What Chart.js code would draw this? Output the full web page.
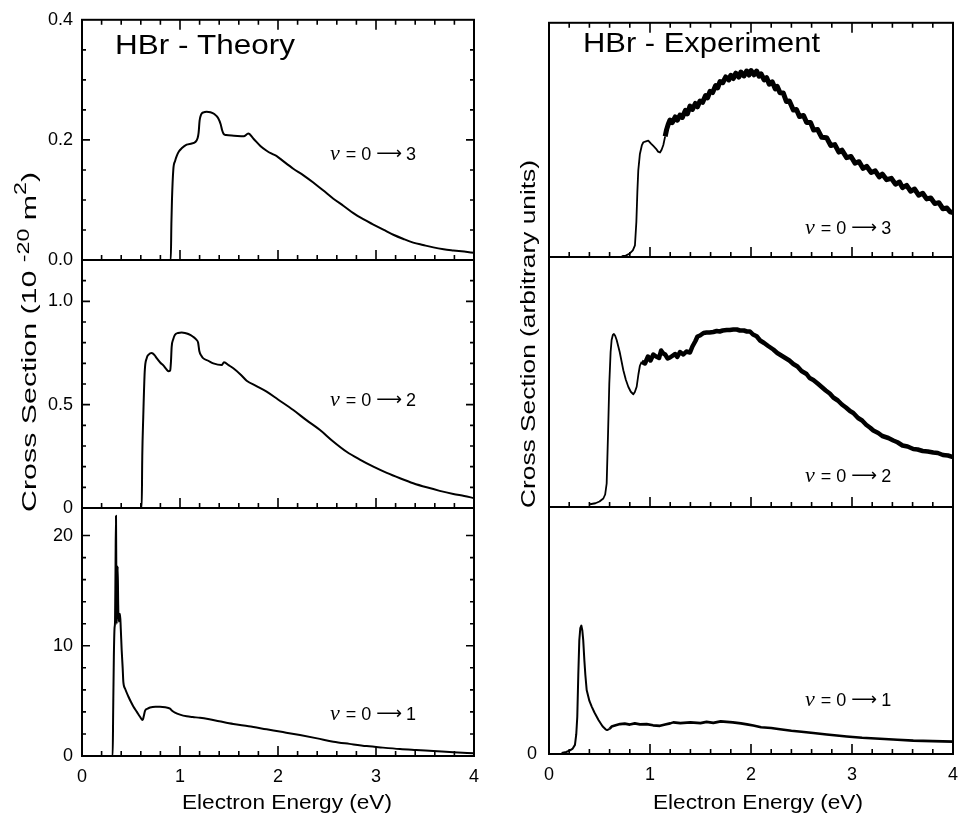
<!DOCTYPE html>
<html>
<head>
<meta charset="utf-8">
<script src="https://cdn.jsdelivr.net/npm/chart.js@4.4.1/dist/chart.umd.min.js"></script>
<style>
html, body { margin: 0; padding: 0; background: #fff; overflow: hidden; }
#fig { position: relative; width: 961px; height: 815px; overflow: hidden; }
#fig canvas { position: absolute; left: 0; top: 0; }
</style>
</head>
<body>
<div id="fig"></div>
<script>
// theory, v = 0 -> 3 (10^-20 m^2)
const thTopX = [0, 0.9, 0.906, 0.912, 0.918, 0.932, 0.95, 0.966, 0.99, 1.017, 1.068, 1.12, 1.153, 1.18, 1.19, 1.2, 1.215, 1.24, 1.272, 1.31, 1.35, 1.39, 1.415, 1.43, 1.445, 1.47, 1.55, 1.65, 1.697, 1.75, 1.82, 1.884, 1.936, 1.987, 2.05, 2.156, 2.26, 2.36, 2.46, 2.565, 2.67, 2.769, 2.87, 2.973, 3.08, 3.177, 3.28, 3.38, 3.48, 3.585, 3.69, 3.789, 3.9, 4.0];
const thTopY = [0, 0, 0, 0.06, 0.1, 0.151, 0.165, 0.173, 0.181, 0.186, 0.192, 0.194, 0.196, 0.203, 0.212, 0.232, 0.242, 0.246, 0.247, 0.246, 0.243, 0.236, 0.226, 0.216, 0.21, 0.208, 0.207, 0.206, 0.2105, 0.202, 0.19, 0.182, 0.177, 0.173, 0.165, 0.152, 0.141, 0.129, 0.116, 0.102, 0.09, 0.078, 0.068, 0.059, 0.05, 0.042, 0.035, 0.029, 0.025, 0.021, 0.018, 0.016, 0.014, 0.012];

// theory, v = 0 -> 2
const thMidX = [0, 0.605, 0.609, 0.615, 0.625, 0.64, 0.66, 0.68, 0.711, 0.74, 0.762, 0.8, 0.83, 0.86, 0.881, 0.9, 0.908, 0.915, 0.93, 0.949, 0.98, 1.017, 1.05, 1.085, 1.13, 1.17, 1.185, 1.197, 1.22, 1.238, 1.29, 1.34, 1.425, 1.449, 1.5, 1.544, 1.62, 1.68, 1.78, 1.884, 2.0, 2.156, 2.29, 2.429, 2.56, 2.7, 2.84, 2.973, 3.11, 3.245, 3.38, 3.517, 3.65, 3.789, 3.9, 4.0];
const thMidY = [0, 0, 0, 0.25, 0.44, 0.66, 0.725, 0.742, 0.75, 0.74, 0.725, 0.703, 0.69, 0.672, 0.662, 0.665, 0.71, 0.78, 0.815, 0.838, 0.847, 0.849, 0.847, 0.842, 0.83, 0.813, 0.8, 0.76, 0.735, 0.724, 0.712, 0.70, 0.692, 0.705, 0.69, 0.676, 0.645, 0.616, 0.59, 0.563, 0.525, 0.474, 0.425, 0.377, 0.323, 0.272, 0.233, 0.20, 0.17, 0.144, 0.12, 0.10, 0.083, 0.068, 0.058, 0.048];

// theory, v = 0 -> 1
const thBotX = [0, 0.305, 0.313, 0.318, 0.325, 0.332, 0.337, 0.342, 0.347, 0.351, 0.354, 0.359, 0.364, 0.369, 0.374, 0.38, 0.388, 0.396, 0.405, 0.415, 0.422, 0.44, 0.473, 0.5, 0.524, 0.56, 0.592, 0.619, 0.63, 0.643, 0.67, 0.694, 0.75, 0.796, 0.85, 0.898, 0.92, 0.949, 1.0, 1.068, 1.13, 1.204, 1.3, 1.4, 1.544, 1.7, 1.884, 2.05, 2.224, 2.4, 2.565, 2.73, 2.905, 3.07, 3.245, 3.41, 3.585, 3.79, 4.0];
const thBotY = [0, 0, 0, 4, 9, 11.6, 12.2, 17, 21.8, 15, 12, 13.5, 17.2, 14, 12.2, 12.6, 12.9, 11.5, 9.6, 8, 6.7, 6.1, 5.4, 4.9, 4.5, 4.0, 3.56, 3.26, 3.6, 4.1, 4.3, 4.4, 4.47, 4.47, 4.42, 4.3, 4.1, 3.93, 3.75, 3.6, 3.53, 3.47, 3.33, 3.15, 2.9, 2.7, 2.42, 2.17, 1.9, 1.6, 1.3, 1.1, 0.9, 0.76, 0.63, 0.54, 0.45, 0.34, 0.24];

// experiment, arbitrary units
const exTopX = [0.72, 0.76, 0.8, 0.83, 0.851, 0.865, 0.875, 0.884, 0.9, 0.92, 0.934, 0.96, 0.983, 1.01, 1.033, 1.06, 1.08, 1.099, 1.115, 1.132, 1.15, 1.165, 1.18, 1.198, 1.22, 1.25, 1.27, 1.297, 1.32, 1.35, 1.37, 1.396, 1.42, 1.45, 1.47, 1.495, 1.52, 1.55, 1.57, 1.594, 1.62, 1.65, 1.67, 1.693, 1.72, 1.75, 1.78, 1.8, 1.825, 1.85, 1.88, 1.9, 1.93, 1.957, 1.98, 2.0, 2.03, 2.056, 2.08, 2.1, 2.13, 2.155, 2.18, 2.21, 2.24, 2.26, 2.287, 2.32, 2.35, 2.38, 2.419, 2.45, 2.48, 2.52, 2.551, 2.59, 2.62, 2.66, 2.7, 2.749, 2.79, 2.83, 2.87, 2.9, 2.947, 2.99, 3.03, 3.07, 3.11, 3.145, 3.19, 3.23, 3.27, 3.3, 3.343, 3.39, 3.43, 3.47, 3.5, 3.541, 3.58, 3.62, 3.66, 3.7, 3.739, 3.78, 3.82, 3.86, 3.9, 3.94, 3.97, 4.0];
const exTopY = [0.004, 0.006, 0.015, 0.028, 0.05, 0.15, 0.28, 0.37, 0.44, 0.478, 0.49, 0.494, 0.497, 0.484, 0.474, 0.462, 0.45, 0.446, 0.458, 0.478, 0.515, 0.545, 0.566, 0.585, 0.574, 0.598, 0.584, 0.606, 0.596, 0.626, 0.611, 0.644, 0.63, 0.656, 0.641, 0.666, 0.66, 0.689, 0.68, 0.707, 0.702, 0.732, 0.722, 0.749, 0.744, 0.769, 0.756, 0.776, 0.762, 0.785, 0.768, 0.79, 0.773, 0.794, 0.777, 0.796, 0.778, 0.794, 0.772, 0.782, 0.756, 0.766, 0.738, 0.748, 0.718, 0.728, 0.701, 0.7, 0.664, 0.666, 0.628, 0.63, 0.6, 0.604, 0.574, 0.574, 0.542, 0.544, 0.511, 0.509, 0.476, 0.48, 0.448, 0.456, 0.424, 0.429, 0.401, 0.407, 0.378, 0.387, 0.361, 0.368, 0.342, 0.354, 0.33, 0.336, 0.311, 0.32, 0.296, 0.306, 0.281, 0.29, 0.264, 0.272, 0.248, 0.252, 0.228, 0.232, 0.206, 0.209, 0.193, 0.19];

const exMidX = [0.406, 0.46, 0.5, 0.538, 0.556, 0.571, 0.585, 0.597, 0.61, 0.62, 0.632, 0.643, 0.655, 0.67, 0.7, 0.736, 0.76, 0.785, 0.81, 0.835, 0.85, 0.868, 0.885, 0.9, 0.917, 0.95, 0.98, 1.005, 1.033, 1.06, 1.09, 1.11, 1.132, 1.15, 1.175, 1.198, 1.22, 1.25, 1.27, 1.297, 1.33, 1.36, 1.396, 1.42, 1.45, 1.47, 1.495, 1.53, 1.56, 1.59, 1.627, 1.66, 1.69, 1.72, 1.76, 1.79, 1.825, 1.86, 1.89, 1.93, 1.96, 1.99, 2.02, 2.056, 2.09, 2.13, 2.17, 2.221, 2.26, 2.3, 2.34, 2.38, 2.419, 2.46, 2.5, 2.55, 2.58, 2.617, 2.66, 2.7, 2.74, 2.78, 2.815, 2.86, 2.9, 2.94, 2.98, 3.013, 3.06, 3.1, 3.14, 3.18, 3.211, 3.26, 3.3, 3.36, 3.409, 3.45, 3.5, 3.55, 3.607, 3.65, 3.7, 3.75, 3.805, 3.85, 3.9, 3.95, 4.0];
const exMidY = [0.011, 0.015, 0.022, 0.034, 0.05, 0.094, 0.3, 0.494, 0.62, 0.668, 0.688, 0.692, 0.685, 0.668, 0.62, 0.547, 0.51, 0.481, 0.461, 0.451, 0.46, 0.481, 0.53, 0.565, 0.581, 0.574, 0.602, 0.586, 0.61, 0.602, 0.596, 0.626, 0.614, 0.61, 0.594, 0.598, 0.604, 0.612, 0.6, 0.62, 0.61, 0.622, 0.618, 0.642, 0.664, 0.682, 0.686, 0.696, 0.698, 0.698, 0.7, 0.704, 0.702, 0.706, 0.708, 0.708, 0.71, 0.71, 0.706, 0.706, 0.702, 0.702, 0.69, 0.683, 0.666, 0.656, 0.644, 0.63, 0.616, 0.606, 0.596, 0.586, 0.572, 0.562, 0.544, 0.532, 0.516, 0.508, 0.494, 0.48, 0.466, 0.454, 0.438, 0.426, 0.41, 0.398, 0.384, 0.376, 0.356, 0.346, 0.329, 0.317, 0.306, 0.296, 0.284, 0.276, 0.266, 0.259, 0.246, 0.242, 0.232, 0.23, 0.224, 0.222, 0.218, 0.216, 0.208, 0.206, 0.2];

const exBotX = [0.125, 0.17, 0.208, 0.235, 0.257, 0.27, 0.28, 0.29, 0.30, 0.31, 0.32, 0.33, 0.339, 0.35, 0.36, 0.373, 0.4, 0.423, 0.45, 0.49, 0.53, 0.56, 0.575, 0.6, 0.62, 0.66, 0.703, 0.75, 0.8, 0.85, 0.9, 0.967, 1.03, 1.099, 1.15, 1.2, 1.231, 1.3, 1.4, 1.5, 1.56, 1.627, 1.7, 1.759, 1.82, 1.9, 1.96, 2.023, 2.1, 2.2, 2.287, 2.4, 2.5, 2.617, 2.75, 2.85, 2.947, 3.1, 3.277, 3.45, 3.607, 3.8, 4.0];
const exBotY = [0.004, 0.008, 0.015, 0.022, 0.037, 0.08, 0.151, 0.32, 0.46, 0.51, 0.52, 0.5, 0.46, 0.38, 0.32, 0.259, 0.215, 0.192, 0.168, 0.138, 0.112, 0.1, 0.097, 0.102, 0.111, 0.116, 0.121, 0.123, 0.119, 0.124, 0.12, 0.121, 0.116, 0.114, 0.119, 0.124, 0.128, 0.125, 0.128, 0.125, 0.13, 0.126, 0.132, 0.13, 0.128, 0.124, 0.12, 0.115, 0.108, 0.105, 0.1, 0.094, 0.09, 0.085, 0.079, 0.075, 0.071, 0.066, 0.062, 0.058, 0.054, 0.052, 0.05];

// tick labels
const xTickVals = [0, 1, 2, 3, 4];
const xTickText = ['0', '1', '2', '3', '4'];
const topTickVals = [0, 0.2, 0.4];
const topTickText = ['0.0', '0.2', '0.4'];
const midTickVals = [0, 0.5, 1.0];
const midTickText = ['0', '0.5', '1.0'];
const botTickVals = [0, 10, 20];
const botTickText = ['0', '10', '20'];

const FONT = '"Liberation Sans", Arial, Helvetica, sans-serif';
Chart.defaults.font.family = FONT;
Chart.defaults.color = '#000';

const CW = 1000, CH = 815;

// text squeezed/stretched along its baseline to a given length
function stretchedText(ctx, parts, x, y, len, rotate) {
    ctx.save();
    let w = 0;
    parts.forEach(p => {
        ctx.font = p.size + 'px ' + FONT;
        w += ctx.measureText(p.text).width;
    });
    ctx.translate(x, y);
    if (rotate) ctx.rotate(-Math.PI / 2);
    ctx.scale(len / w, 1);
    ctx.textAlign = 'left';
    ctx.textBaseline = 'alphabetic';
    let cx = 0;
    parts.forEach(p => {
        ctx.font = p.size + 'px ' + FONT;
        ctx.fillText(p.text, cx, -(p.rise || 0));
        cx += ctx.measureText(p.text).width;
    });
    ctx.restore();
}

const decor = {
    id: 'decor',
    afterDatasetsDraw(chart, args, o) {
        const { ctx, chartArea: a } = chart;
        const xs = chart.scales.x, ys = chart.scales.y;
        ctx.save();
        ctx.strokeStyle = '#000';
        ctx.fillStyle = '#000';

        // inward tick marks
        ctx.lineWidth = 1.6;
        ctx.beginPath();
        for (let i = 0; i <= 20; i++) {
            const px = xs.getPixelForValue(i * 0.2);
            const len = i % 5 === 0 ? 10 : 5;
            ctx.moveTo(px, a.bottom); ctx.lineTo(px, a.bottom - len);
            if (o.topTicks) { ctx.moveTo(px, a.top); ctx.lineTo(px, a.top + len); }
        }
        if (o.yMinor) {
            for (let i = 1; i * o.yMinor < ys.max - o.yMinor / 2; i++) {
                const py = ys.getPixelForValue(i * o.yMinor);
                const len = i % o.yEvery === 0 ? 8 : 4;
                ctx.moveTo(a.left, py); ctx.lineTo(a.left + len, py);
                ctx.moveTo(a.right, py); ctx.lineTo(a.right - len, py);
            }
        }
        ctx.stroke();

        ctx.lineWidth = 2;
        ctx.strokeRect(a.left, a.top, a.right - a.left, a.bottom - a.top);

        // v = 0 -> n label
        if (o.note) {
            let nx = xs.getPixelForValue(o.note.x);
            const ny = ys.getPixelForValue(o.note.y);
            ctx.textBaseline = 'alphabetic';
            ctx.textAlign = 'left';
            ctx.font = 'italic 22px "Liberation Serif", "Times New Roman", serif';
            ctx.fillText('v', nx, ny);
            nx += ctx.measureText('v').width + 6;
            ctx.font = '18px ' + FONT;
            ctx.fillText('= 0', nx, ny);
            nx += ctx.measureText('= 0').width + 5;
            ctx.font = '18px "DejaVu Sans", sans-serif';
            ctx.fillText('\u27F6', nx, ny - 1);
            nx += ctx.measureText('\u27F6').width + 4;
            ctx.font = '18px ' + FONT;
            ctx.fillText(o.note.n, nx, ny);
        }
        if (o.title) stretchedText(ctx, o.title.parts, o.title.x, o.title.y, o.title.len, false);
        if (o.yTitle) stretchedText(ctx, o.yTitle.parts, o.yTitle.x, o.yTitle.y, o.yTitle.len, true);
        if (o.xTitle) stretchedText(ctx, o.xTitle.parts, o.xTitle.x, o.xTitle.y, o.xTitle.len, false);
        ctx.restore();
    }
};

const fig = document.getElementById('fig');

function makePanel(p) {
    const cv = document.createElement('canvas');
    cv.width = CW;
    cv.height = CH;
    fig.appendChild(cv);
    const [L, R, T, B] = p.box;
    const yW = 70;
    const seg = p.noiseFrom ? { borderWidth: c => (c.p0.parsed.x >= p.noiseFrom ? p.noiseW : p.lw) } : {};
    return new Chart(cv, {
        type: 'line',
        data: {
            datasets: [{
                data: p.xs.map((x, i) => ({ x: x, y: p.ys[i] })),
                borderColor: '#000',
                borderWidth: p.lw,
                pointRadius: 0,
                fill: false,
                tension: 0,
                cubicInterpolationMode: p.smooth ? 'monotone' : 'default',
                borderJoinStyle: 'round',
                segment: seg
            }]
        },
        options: {
            responsive: false,
            animation: false,
            devicePixelRatio: 1,
            events: [],
            layout: { padding: { left: L - yW, right: CW - R, top: T, bottom: p.xAxis ? 0 : CH - B } },
            plugins: {
                legend: { display: false },
                tooltip: { enabled: false },
                decor: p.decor
            },
            scales: {
                x: {
                    type: 'linear', min: 0, max: 4,
                    display: !!p.xAxis,
                    grid: { display: false, drawTicks: false },
                    border: { display: false },
                    afterFit: s => { if (p.xAxis) s.height = CH - B; },
                    afterBuildTicks: s => { s.ticks = xTickVals.map(v => ({ value: v })); },
                    ticks: { padding: 10, font: { size: 18 }, color: '#000', maxRotation: 0, autoSkip: false,
                             callback: (v, i) => xTickText[i] }
                },
                y: {
                    type: 'linear', min: 0, max: p.yMax,
                    grid: { display: false, drawTicks: false },
                    border: { display: false },
                    afterFit: s => { s.width = yW; },
                    afterBuildTicks: s => { s.ticks = p.yVals.map(v => ({ value: v })); },
                    ticks: { padding: p.yPad, font: { size: 18 }, color: '#000', autoSkip: false,
                             callback: (v, i) => p.yText[i] }
                }
            }
        },
        plugins: [decor]
    });
}

const charts = [
    { xs: thTopX, ys: thTopY, box: [82, 474, 13, 260], yMax: 0.4, yVals: topTickVals, yText: topTickText, yPad: 9,
      lw: 2, smooth: true,
      decor: { topTicks: true, yMinor: 0.05, yEvery: 4, note: { n: '3', x: 2.53, y: 0.166 },
               title: { parts: [{ text: 'HBr - Theory', size: 28 }], x: 115, y: 53.5, len: 180 } } },
    { xs: thMidX, ys: thMidY, box: [82, 474, 260, 508], yMax: 1.2, yVals: midTickVals, yText: midTickText, yPad: 9,
      lw: 2, smooth: true,
      decor: { yMinor: 0.1, yEvery: 5, note: { n: '2', x: 2.53, y: 0.493 },
               yTitle: { parts: [{ text: 'Cross Section (10 ', size: 21 }, { text: '-20', size: 16, rise: 7 },
                                 { text: ' m', size: 21 }, { text: '2', size: 16, rise: 10 }, { text: ')', size: 21 }],
                         x: 36, y: 512, len: 340 } } },
    { xs: thBotX, ys: thBotY, box: [82, 474, 508, 756], yMax: 22.5, yVals: botTickVals, yText: botTickText, yPad: 9,
      lw: 2, smooth: true, xAxis: true,
      decor: { yMinor: 2, yEvery: 5, note: { n: '1', x: 2.53, y: 3.26 },
               xTitle: { parts: [{ text: 'Electron Energy (eV)', size: 21 }], x: 182, y: 809, len: 210 } } },
    { xs: exTopX, ys: exTopY, box: [549, 953, 10, 257], yMax: 1, yVals: [0], yText: [''], yPad: 12,
      lw: 1.8, noiseFrom: 1.15, noiseW: 5,
      decor: { topTicks: true, note: { n: '3', x: 2.535, y: 0.098 },
               title: { parts: [{ text: 'HBr - Experiment', size: 28 }], x: 583, y: 51.7, len: 237 } } },
    { xs: exMidX, ys: exMidY, box: [549, 953, 257, 507], yMax: 1, yVals: [0], yText: [''], yPad: 12,
      lw: 1.8, noiseFrom: 0.917, noiseW: 4.5,
      decor: { note: { n: '2', x: 2.535, y: 0.102 },
               yTitle: { parts: [{ text: 'Cross Section (arbitrary units)', size: 21 }], x: 535, y: 508, len: 348 } } },
    { xs: exBotX, ys: exBotY, box: [549, 953, 507, 754], yMax: 1, yVals: [0], yText: ['0'], yPad: 12,
      lw: 2, noiseFrom: 0.6, noiseW: 2.6, xAxis: true,
      decor: { note: { n: '1', x: 2.535, y: 0.193 },
               xTitle: { parts: [{ text: 'Electron Energy (eV)', size: 21 }], x: 653, y: 809, len: 210 } } }
];

charts.forEach(makePanel);
</script>
</body>
</html>
